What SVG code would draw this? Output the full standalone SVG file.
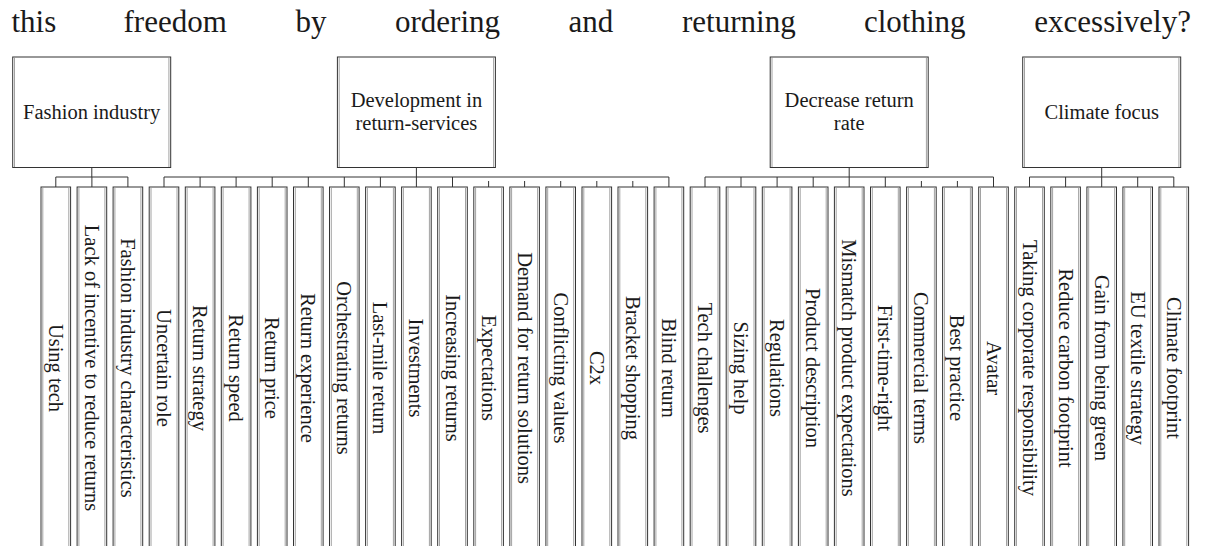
<svg xmlns="http://www.w3.org/2000/svg" width="1205" height="546" viewBox="0 0 1205 546">
<style>
.bg{fill:#fff}
.box{fill:#fff;stroke:#333;stroke-width:1}
.inner{fill:none;stroke:#8a8a8a;stroke-width:0.8}
.conn{fill:none;stroke:#333;stroke-width:1}
.t{font-family:"Liberation Serif","Times New Roman",serif;fill:#1a1a1a}
.title{font-size:31px}
.hdr{font-size:20.5px;text-anchor:middle}
.lbl{font-size:20.5px;text-anchor:middle;dominant-baseline:central}
</style>
<rect class="bg" x="0" y="0" width="1205" height="546"/>
<g id="title" class="t title">
<text x="11.5" y="31.5">this</text>
<text x="123.5" y="31.5">freedom</text>
<text x="295.5" y="31.5">by</text>
<text x="395" y="31.5">ordering</text>
<text x="568.5" y="31.5">and</text>
<text x="682" y="31.5">returning</text>
<text x="864" y="31.5">clothing</text>
<text x="1191" y="31.5" text-anchor="end">excessively?</text>
</g>
<g id="connectors" class="conn">
<path d="M91.8 167.5V177M55.8 177H127.9M55.8 177V187M91.9 177V187M127.9 177V187"/>
<path d="M416.4 167.5V177M164 177H668.9M164 177V187M200.1 177V187M236.1 177V187M272.2 177V187M308.3 177V187M344.3 177V187M380.4 177V187M416.4 177V187M452.5 177V187M488.6 181V187M524.6 181V187M560.7 181V187M596.8 181V187M632.8 181V187M668.9 177V187"/>
<path d="M849.2 167.5V177M705 177H993.5M705 177V187M741 177V187M777.1 177V187M813.2 177V187M849.2 177V187M885.3 177V187M921.4 181V187M957.4 181V187M993.5 177V187"/>
<path d="M1101.7 167.5V177M1029.5 177H1173.8M1029.5 177V187M1065.6 177V187M1101.7 177V187M1137.7 177V187M1173.8 177V187"/>
</g>
<g id="h-fashion"><rect class="box" x="12.7" y="57" width="158" height="110.5"/><path class="inner" d="M14.5 57.5V167M168.9 57.5V167"/><text class="t hdr" x="91.7" y="119">Fashion industry</text></g>
<g id="h-development"><rect class="box" x="337.4" y="57" width="158" height="110.5"/><path class="inner" d="M339.2 57.5V167M493.6 57.5V167"/><text class="t hdr" x="416.4" y="107">Development in</text><text class="t hdr" x="416.4" y="130">return-services</text></g>
<g id="h-decrease"><rect class="box" x="770.2" y="57" width="158" height="110.5"/><path class="inner" d="M772 57.5V167M926.4 57.5V167"/><text class="t hdr" x="849.2" y="107">Decrease return</text><text class="t hdr" x="849.2" y="130">rate</text></g>
<g id="h-climate"><rect class="box" x="1022.7" y="57" width="158" height="110.5"/><path class="inner" d="M1024.5 57.5V167M1178.9 57.5V167"/><text class="t hdr" x="1101.7" y="119">Climate focus</text></g>
<g id="c01"><rect class="box" x="41" y="187" width="29.6" height="370"/><path class="inner" d="M42.8 188V546M68.8 188V546"/><text class="t lbl" transform="translate(55.8 368) rotate(90)">Using tech</text></g>
<g id="c02"><rect class="box" x="77.1" y="187" width="29.6" height="370"/><path class="inner" d="M78.9 188V546M104.9 188V546"/><text class="t lbl" transform="translate(91.9 368) rotate(90)">Lack of incentive to reduce returns</text></g>
<g id="c03"><rect class="box" x="113.1" y="187" width="29.6" height="370"/><path class="inner" d="M114.9 188V546M140.9 188V546"/><text class="t lbl" transform="translate(127.9 368) rotate(90)">Fashion industry characteristics</text></g>
<g id="c04"><rect class="box" x="149.2" y="187" width="29.6" height="370"/><path class="inner" d="M151 188V546M177 188V546"/><text class="t lbl" transform="translate(164 368) rotate(90)">Uncertain role</text></g>
<g id="c05"><rect class="box" x="185.3" y="187" width="29.6" height="370"/><path class="inner" d="M187.1 188V546M213.1 188V546"/><text class="t lbl" transform="translate(200.1 368) rotate(90)">Return strategy</text></g>
<g id="c06"><rect class="box" x="221.3" y="187" width="29.6" height="370"/><path class="inner" d="M223.1 188V546M249.1 188V546"/><text class="t lbl" transform="translate(236.1 368) rotate(90)">Return speed</text></g>
<g id="c07"><rect class="box" x="257.4" y="187" width="29.6" height="370"/><path class="inner" d="M259.2 188V546M285.2 188V546"/><text class="t lbl" transform="translate(272.2 368) rotate(90)">Return price</text></g>
<g id="c08"><rect class="box" x="293.5" y="187" width="29.6" height="370"/><path class="inner" d="M295.3 188V546M321.3 188V546"/><text class="t lbl" transform="translate(308.3 368) rotate(90)">Return experience</text></g>
<g id="c09"><rect class="box" x="329.5" y="187" width="29.6" height="370"/><path class="inner" d="M331.3 188V546M357.3 188V546"/><text class="t lbl" transform="translate(344.3 368) rotate(90)">Orchestrating returns</text></g>
<g id="c10"><rect class="box" x="365.6" y="187" width="29.6" height="370"/><path class="inner" d="M367.4 188V546M393.4 188V546"/><text class="t lbl" transform="translate(380.4 368) rotate(90)">Last-mile return</text></g>
<g id="c11"><rect class="box" x="401.6" y="187" width="29.6" height="370"/><path class="inner" d="M403.4 188V546M429.4 188V546"/><text class="t lbl" transform="translate(416.4 368) rotate(90)">Investments</text></g>
<g id="c12"><rect class="box" x="437.7" y="187" width="29.6" height="370"/><path class="inner" d="M439.5 188V546M465.5 188V546"/><text class="t lbl" transform="translate(452.5 368) rotate(90)">Increasing returns</text></g>
<g id="c13"><rect class="box" x="473.8" y="187" width="29.6" height="370"/><path class="inner" d="M475.6 188V546M501.6 188V546"/><text class="t lbl" transform="translate(488.6 368) rotate(90)">Expectations</text></g>
<g id="c14"><rect class="box" x="509.8" y="187" width="29.6" height="370"/><path class="inner" d="M511.6 188V546M537.6 188V546"/><text class="t lbl" transform="translate(524.6 368) rotate(90)">Demand for return solutions</text></g>
<g id="c15"><rect class="box" x="545.9" y="187" width="29.6" height="370"/><path class="inner" d="M547.7 188V546M573.7 188V546"/><text class="t lbl" transform="translate(560.7 368) rotate(90)">Conflicting values</text></g>
<g id="c16"><rect class="box" x="582" y="187" width="29.6" height="370"/><path class="inner" d="M583.8 188V546M609.8 188V546"/><text class="t lbl" transform="translate(596.8 368) rotate(90)">C2x</text></g>
<g id="c17"><rect class="box" x="618" y="187" width="29.6" height="370"/><path class="inner" d="M619.8 188V546M645.8 188V546"/><text class="t lbl" transform="translate(632.8 368) rotate(90)">Bracket shopping</text></g>
<g id="c18"><rect class="box" x="654.1" y="187" width="29.6" height="370"/><path class="inner" d="M655.9 188V546M681.9 188V546"/><text class="t lbl" transform="translate(668.9 368) rotate(90)">Blind return</text></g>
<g id="c19"><rect class="box" x="690.2" y="187" width="29.6" height="370"/><path class="inner" d="M692 188V546M718 188V546"/><text class="t lbl" transform="translate(705 368) rotate(90)">Tech challenges</text></g>
<g id="c20"><rect class="box" x="726.2" y="187" width="29.6" height="370"/><path class="inner" d="M728 188V546M754 188V546"/><text class="t lbl" transform="translate(741 368) rotate(90)">Sizing help</text></g>
<g id="c21"><rect class="box" x="762.3" y="187" width="29.6" height="370"/><path class="inner" d="M764.1 188V546M790.1 188V546"/><text class="t lbl" transform="translate(777.1 368) rotate(90)">Regulations</text></g>
<g id="c22"><rect class="box" x="798.4" y="187" width="29.6" height="370"/><path class="inner" d="M800.2 188V546M826.2 188V546"/><text class="t lbl" transform="translate(813.2 368) rotate(90)">Product description</text></g>
<g id="c23"><rect class="box" x="834.4" y="187" width="29.6" height="370"/><path class="inner" d="M836.2 188V546M862.2 188V546"/><text class="t lbl" transform="translate(849.2 368) rotate(90)">Mismatch product expectations</text></g>
<g id="c24"><rect class="box" x="870.5" y="187" width="29.6" height="370"/><path class="inner" d="M872.3 188V546M898.3 188V546"/><text class="t lbl" transform="translate(885.3 368) rotate(90)">First-time-right</text></g>
<g id="c25"><rect class="box" x="906.6" y="187" width="29.6" height="370"/><path class="inner" d="M908.4 188V546M934.4 188V546"/><text class="t lbl" transform="translate(921.4 368) rotate(90)">Commercial terms</text></g>
<g id="c26"><rect class="box" x="942.6" y="187" width="29.6" height="370"/><path class="inner" d="M944.4 188V546M970.4 188V546"/><text class="t lbl" transform="translate(957.4 368) rotate(90)">Best practice</text></g>
<g id="c27"><rect class="box" x="978.7" y="187" width="29.6" height="370"/><path class="inner" d="M980.5 188V546M1006.5 188V546"/><text class="t lbl" transform="translate(993.5 368) rotate(90)">Avatar</text></g>
<g id="c28"><rect class="box" x="1014.7" y="187" width="29.6" height="370"/><path class="inner" d="M1016.5 188V546M1042.5 188V546"/><text class="t lbl" transform="translate(1029.5 368) rotate(90)">Taking corporate responsibility</text></g>
<g id="c29"><rect class="box" x="1050.8" y="187" width="29.6" height="370"/><path class="inner" d="M1052.6 188V546M1078.6 188V546"/><text class="t lbl" transform="translate(1065.6 368) rotate(90)">Reduce carbon footprint</text></g>
<g id="c30"><rect class="box" x="1086.9" y="187" width="29.6" height="370"/><path class="inner" d="M1088.7 188V546M1114.7 188V546"/><text class="t lbl" transform="translate(1101.7 368) rotate(90)">Gain from being green</text></g>
<g id="c31"><rect class="box" x="1122.9" y="187" width="29.6" height="370"/><path class="inner" d="M1124.7 188V546M1150.7 188V546"/><text class="t lbl" transform="translate(1137.7 368) rotate(90)">EU textile strategy</text></g>
<g id="c32"><rect class="box" x="1159" y="187" width="29.6" height="370"/><path class="inner" d="M1160.8 188V546M1186.8 188V546"/><text class="t lbl" transform="translate(1173.8 368) rotate(90)">Climate footprint</text></g>
</svg>
